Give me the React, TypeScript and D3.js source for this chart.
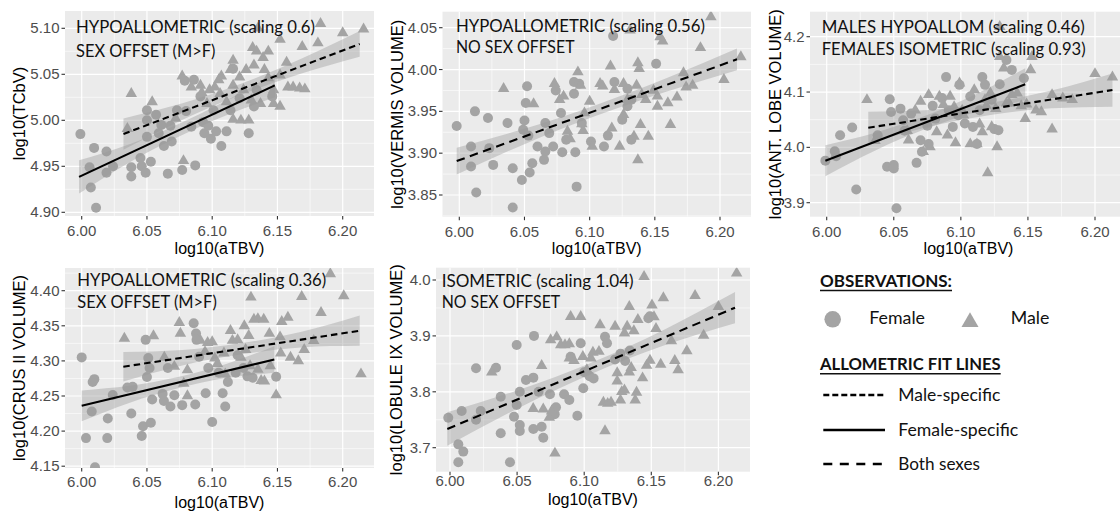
import React from 'react';
import * as d3 from 'd3';

type Pt = [number, number];

const X_TICKS = [6.0, 6.05, 6.1, 6.15, 6.2];
const P1_YTICKS = [4.9, 4.95, 5.0, 5.05, 5.1];
const P2_YTICKS = [3.85, 3.9, 3.95, 4.0, 4.05];
const P3_YTICKS = [3.9, 4.0, 4.1, 4.2];
const P4_YTICKS = [4.15, 4.2, 4.25, 4.3, 4.35, 4.4];
const P5_YTICKS = [3.7, 3.8, 3.9, 4.0];

const P1_NOTE = ['HYPOALLOMETRIC (scaling 0.6)', 'SEX OFFSET (M>F)'];
const P2_NOTE = ['HYPOALLOMETRIC (scaling 0.56)', 'NO SEX OFFSET'];
const P3_NOTE = ['MALES HYPOALLOM (scaling 0.46)', 'FEMALES ISOMETRIC (scaling 0.93)'];
const P4_NOTE = ['HYPOALLOMETRIC (scaling 0.36)', 'SEX OFFSET (M>F)'];
const P5_NOTE = ['ISOMETRIC (scaling 1.04)', 'NO SEX OFFSET'];

// ---------- Panel 1: TCbV ----------
const P1_FEMALE: Pt[] = [
  [5.999, 4.985], [6.0095, 4.97], [6.006, 4.949], [6.007, 4.927], [6.011, 4.905], [6.019, 4.966],
  [6.019, 4.943], [6.024, 4.95], [6.038, 4.949], [6.038, 4.939], [6.045, 4.959], [6.046, 4.95],
  [6.05, 5.011], [6.05, 5.0], [6.05, 4.982], [6.049, 4.943], [6.053, 4.955], [6.057, 5.006],
  [6.061, 4.995], [6.063, 4.972], [6.059, 4.986], [6.068, 4.994], [6.069, 4.977], [6.066, 4.942],
  [6.077, 4.946], [6.079, 5.043], [6.08, 5.01], [6.086, 5.044], [6.087, 4.951], [6.093, 4.998],
  [6.094, 4.986], [6.097, 4.994], [6.099, 4.98], [6.101, 5.011], [6.103, 4.988], [6.107, 4.972],
  [6.111, 4.988], [6.116, 5.056], [6.121, 5.024], [6.128, 4.986], [6.132, 5.015], [6.134, 5.033],
  [6.146, 5.026], [6.091, 5.026], [6.114, 5.011], [6.073, 5.011], [6.084, 4.993],
];
const P1_MALE: Pt[] = [
  [6.038, 5.029], [6.035, 4.991], [6.054, 5.02], [6.077, 5.048], [6.078, 4.956], [6.084, 5.036],
  [6.091, 5.038], [6.092, 5.03], [6.098, 5.033], [6.102, 5.036], [6.105, 5.044], [6.107, 5.048],
  [6.106, 5.029], [6.111, 5.02], [6.114, 5.055], [6.116, 5.038], [6.116, 5.001], [6.122, 5.0],
  [6.128, 5.0], [6.121, 5.047], [6.126, 5.055], [6.132, 5.06], [6.131, 5.079], [6.134, 5.075],
  [6.139, 5.068], [6.135, 5.1], [6.13, 5.022], [6.137, 5.018], [6.143, 5.075], [6.143, 5.046],
  [6.147, 5.033], [6.147, 5.018], [6.152, 5.015], [6.152, 5.088], [6.152, 5.049], [6.157, 5.063],
  [6.158, 5.036], [6.162, 5.036], [6.167, 5.035], [6.171, 5.034], [6.169, 5.08], [6.181, 5.084],
  [6.183, 5.105], [6.2, 5.095], [6.216, 5.099], [6.116, 5.065], [6.096, 5.018], [6.124, 5.033],
  [6.14, 5.055], [6.072, 5.002],
];
const P1_FEM_FIT_X = [5.998, 6.148];
const P1_FEM_FIT_Y = [4.9385, 5.038];
const P1_FEM_FIT_SE = [0.018, 0.01, 0.007, 0.008, 0.013];
const P1_MALE_FIT_X = [6.032, 6.213];
const P1_MALE_FIT_Y = [4.985, 5.083];
const P1_MALE_FIT_SE = [0.017, 0.009, 0.006, 0.008, 0.014];

// ---------- Panel 2: VERMIS ----------
const P2_FEMALE: Pt[] = [
  [5.998, 3.9325], [6.009, 3.908], [6.012, 3.95], [6.009, 3.884], [6.013, 3.853], [6.022, 3.942],
  [6.023, 3.906], [6.026, 3.886], [6.037, 3.936], [6.041, 3.882], [6.041, 3.835], [6.048, 3.868],
  [6.049, 3.928], [6.05, 3.939], [6.051, 3.96], [6.052, 3.98], [6.053, 3.921], [6.054, 3.877],
  [6.056, 3.888], [6.06, 3.908], [6.066, 3.936], [6.066, 3.902], [6.065, 3.892], [6.069, 3.924],
  [6.072, 3.908], [6.074, 3.975], [6.078, 3.948], [6.079, 3.901], [6.082, 3.916], [6.088, 3.971],
  [6.088, 3.985], [6.089, 3.901], [6.09, 3.86], [6.092, 3.983], [6.094, 3.936], [6.101, 3.914],
  [6.111, 3.908], [6.114, 3.921], [6.118, 4.04], [6.119, 3.985], [6.125, 3.94], [6.129, 3.956],
  [6.132, 3.964], [6.132, 3.916], [6.151, 4.007], [6.129, 3.977],
];
const P2_MALE: Pt[] = [
  [6.034, 3.977], [6.057, 3.959], [6.073, 3.983], [6.077, 3.964], [6.08, 3.968], [6.083, 3.926],
  [6.085, 3.917], [6.091, 3.997], [6.093, 3.981], [6.094, 3.935], [6.095, 3.927], [6.096, 3.948],
  [6.1, 3.962], [6.102, 3.908], [6.108, 3.983], [6.11, 3.98], [6.116, 4.004], [6.117, 3.93],
  [6.119, 3.976], [6.123, 3.908], [6.126, 3.983], [6.126, 3.946], [6.129, 3.964], [6.131, 4.047],
  [6.134, 3.92], [6.136, 3.981], [6.137, 3.892], [6.137, 4.008], [6.138, 4.001], [6.139, 3.934],
  [6.14, 3.97], [6.143, 3.964], [6.145, 3.92], [6.149, 3.975], [6.152, 3.956], [6.152, 3.968],
  [6.154, 4.039], [6.156, 4.034], [6.16, 3.96], [6.162, 3.934], [6.167, 3.967], [6.172, 3.996],
  [6.174, 3.979], [6.179, 3.981], [6.185, 4.026], [6.193, 4.063], [6.203, 3.988], [6.216, 4.015],
];
const P2_BOTH_FIT_X = [5.998, 6.213];
const P2_BOTH_FIT_Y = [3.8906, 4.0122];
const P2_BOTH_FIT_SE = [0.016, 0.009, 0.0065, 0.008, 0.013];

// ---------- Panel 3: ANT. LOBE ----------
const P3_FEMALE: Pt[] = [
  [5.999, 3.976], [6.006, 3.993], [6.007, 3.984], [6.01, 4.022], [6.019, 4.036], [6.022, 3.924],
  [6.038, 4.022], [6.045, 3.965], [6.047, 4.087], [6.048, 4.064], [6.05, 3.968], [6.05, 3.962],
  [6.052, 3.89], [6.055, 4.07], [6.057, 4.049], [6.058, 4.03], [6.063, 4.061], [6.07, 4.013],
  [6.067, 3.972], [6.071, 3.992], [6.075, 4.039], [6.076, 4.006], [6.079, 4.075], [6.081, 4.052],
  [6.086, 4.089], [6.089, 4.127], [6.091, 4.067], [6.094, 4.037], [6.098, 4.058], [6.099, 4.113],
  [6.103, 4.043], [6.107, 4.092], [6.109, 4.037], [6.112, 4.006], [6.114, 4.067], [6.116, 4.127],
  [6.118, 4.113], [6.123, 4.086], [6.125, 4.033], [6.128, 4.031], [6.129, 4.114], [6.134, 4.158],
  [6.138, 4.14], [6.147, 4.125],
];
const P3_MALE: Pt[] = [
  [6.03, 4.086], [6.036, 4.012], [6.06, 4.03], [6.061, 4.013], [6.066, 4.067], [6.07, 4.083],
  [6.072, 3.992], [6.076, 4.095], [6.077, 4.001], [6.082, 4.028], [6.084, 4.092], [6.087, 4.077],
  [6.09, 4.022], [6.092, 4.092], [6.095, 4.073], [6.096, 4.008], [6.099, 4.116], [6.101, 4.067],
  [6.102, 4.058], [6.107, 4.006], [6.11, 4.104], [6.112, 4.006], [6.114, 4.042], [6.116, 4.028],
  [6.119, 4.075], [6.12, 3.954], [6.122, 4.098], [6.123, 4.037], [6.126, 4.07], [6.127, 4.001],
  [6.129, 4.164], [6.129, 4.218], [6.132, 4.143], [6.134, 4.08], [6.136, 4.08], [6.138, 4.095],
  [6.142, 4.098], [6.145, 4.075], [6.148, 4.052], [6.149, 4.078], [6.152, 4.14], [6.153, 4.164],
  [6.156, 4.067], [6.16, 4.064], [6.168, 4.033], [6.168, 4.095], [6.176, 4.089], [6.183, 4.086],
  [6.2, 4.133], [6.213, 4.127], [6.118, 4.086],
];
const P3_FEM_FIT_X = [5.999, 6.148];
const P3_FEM_FIT_Y = [3.976, 4.114];
const P3_FEM_FIT_SE = [0.028, 0.016, 0.012, 0.016, 0.029];
const P3_MALE_FIT_X = [6.031, 6.213];
const P3_MALE_FIT_Y = [4.0355, 4.1036];
const P3_MALE_FIT_SE = [0.029, 0.015, 0.011, 0.016, 0.03];

// ---------- Panel 4: CRUS II ----------
const P4_FEMALE: Pt[] = [
  [6.0, 4.305], [6.0084, 4.27], [6.0097, 4.274], [6.0077, 4.228], [6.02, 4.218], [6.0238, 4.2514],
  [6.035, 4.262], [6.039, 4.263], [6.038, 4.225], [6.047, 4.207], [6.053, 4.212], [6.049, 4.33],
  [6.051, 4.304], [6.052, 4.29], [6.05, 4.277], [6.054, 4.245], [6.062, 4.253], [6.063, 4.243],
  [6.068, 4.235], [6.071, 4.251], [6.066, 4.29], [6.0858, 4.3536], [6.0876, 4.339], [6.088, 4.33],
  [6.09, 4.306], [6.077, 4.237], [6.087, 4.238], [6.095, 4.254], [6.1, 4.213], [6.108, 4.254],
  [6.11, 4.235], [6.112, 4.27], [6.1195, 4.308], [6.124, 4.29], [6.127, 4.278], [6.131, 4.276],
  [6.149, 4.2775], [6.097, 4.29], [6.105, 4.283], [6.118, 4.283], [6.0102, 4.1484], [6.0033, 4.19],
  [6.0196, 4.19], [6.046, 4.193],
];
const P4_MALE: Pt[] = [
  [6.0327, 4.332], [6.055, 4.3355], [6.0748, 4.3544], [6.0756, 4.3393], [6.0633, 4.305], [6.071, 4.292],
  [6.0782, 4.268], [6.081, 4.25], [6.081, 4.287], [6.091, 4.329], [6.0965, 4.326], [6.1, 4.327],
  [6.0945, 4.313], [6.102, 4.304], [6.104, 4.296], [6.109, 4.311], [6.114, 4.343], [6.1155, 4.329],
  [6.1195, 4.33], [6.122, 4.305], [6.1246, 4.3497], [6.128, 4.336], [6.1297, 4.3906], [6.132, 4.359],
  [6.135, 4.36], [6.1395, 4.359], [6.1256, 4.316], [6.129, 4.293], [6.135, 4.288], [6.1375, 4.272],
  [6.14, 4.271], [6.1438, 4.339], [6.1445, 4.293], [6.149, 4.2514], [6.152, 4.334], [6.1533, 4.356],
  [6.158, 4.362], [6.1525, 4.311], [6.16, 4.305], [6.166, 4.3], [6.1686, 4.3915], [6.1705, 4.316],
  [6.1778, 4.3288], [6.1834, 4.3687], [6.1905, 4.424], [6.2008, 4.3925], [6.214, 4.2813], [6.11, 4.281],
];
const P4_FEM_FIT_X = [6.0, 6.1476];
const P4_FEM_FIT_Y = [4.236, 4.302];
const P4_FEM_FIT_SE = [0.022, 0.012, 0.008, 0.01, 0.019];
const P4_MALE_FIT_X = [6.0319, 6.213];
const P4_MALE_FIT_Y = [4.2917, 4.343];
const P4_MALE_FIT_SE = [0.021, 0.011, 0.008, 0.011, 0.0215];

// ---------- Panel 5: LOBULE IX ----------
const P5_FEMALE: Pt[] = [
  [5.9987, 3.7537], [6.0087, 3.7657], [6.0062, 3.706], [6.0062, 3.674], [6.0099, 3.693], [6.0194, 3.842],
  [6.0229, 3.7657], [6.0194, 3.75], [6.0343, 3.843], [6.0378, 3.7913], [6.0378, 3.726], [6.0447, 3.674],
  [6.0477, 3.7555], [6.0497, 3.8837], [6.0497, 3.7764], [6.052, 3.7406], [6.052, 3.73], [6.052, 3.8],
  [6.0566, 3.821], [6.0621, 3.8253], [6.0626, 3.9], [6.0621, 3.7334], [6.066, 3.8], [6.0683, 3.7376],
  [6.0695, 3.7179], [6.0745, 3.7955], [6.078, 3.76], [6.079, 3.7725], [6.085, 3.7955], [6.0889, 3.7853],
  [6.0899, 3.8628], [6.0949, 3.757], [6.0974, 3.8867], [6.0993, 3.8062], [6.1, 3.835], [6.104, 3.828],
  [6.107, 3.824], [6.1155, 3.8986], [6.117, 3.887], [6.123, 3.858], [6.127, 3.868], [6.1305, 3.855],
  [6.134, 3.874], [6.1478, 3.9315], [6.149, 3.935],
];
const P5_MALE: Pt[] = [
  [6.0311, 3.8349], [6.062, 3.77], [6.0683, 3.8467], [6.0695, 3.769], [6.074, 3.754], [6.075, 3.8927],
  [6.0757, 3.7654], [6.0782, 3.69], [6.0795, 3.898], [6.0825, 3.8837], [6.0857, 3.8837], [6.0889, 3.8855],
  [6.0899, 3.9344], [6.0889, 3.86], [6.0924, 3.8557], [6.0974, 3.9344], [6.099, 3.8628], [6.102, 3.839],
  [6.105, 3.86], [6.1065, 3.8706], [6.111, 3.872], [6.1118, 3.9195], [6.1143, 3.781], [6.1155, 3.73],
  [6.1175, 3.779], [6.12, 3.781], [6.123, 3.917], [6.1246, 3.8337], [6.1246, 3.819], [6.127, 3.785],
  [6.128, 3.8], [6.13, 3.905], [6.13, 3.803], [6.132, 3.917], [6.1336, 3.8353], [6.1336, 3.9523],
  [6.135, 3.843], [6.137, 3.909], [6.139, 3.799], [6.138, 3.785], [6.14, 3.929], [6.1435, 3.8246],
  [6.1446, 4.006], [6.1465, 3.847], [6.149, 3.856], [6.1505, 3.955], [6.152, 3.934], [6.1535, 3.913],
  [6.157, 3.849], [6.159, 3.968], [6.165, 3.891], [6.1675, 3.8557], [6.17, 3.839], [6.1765, 3.873],
  [6.1826, 3.972], [6.189, 3.901], [6.2, 3.9523], [6.2136, 4.012],
];
const P5_BOTH_FIT_X = [5.998, 6.2124];
const P5_BOTH_FIT_Y = [3.7334, 3.9505];
const P5_BOTH_FIT_SE = [0.03, 0.016, 0.01, 0.014, 0.028];

// ---------- Legend ----------
const LEGEND_OBS = ['Female', 'Male'];
const LEGEND_LINES = ['Male-specific', 'Female-specific', 'Both sexes'];

// ---------- layout / styles ----------
const PT_FILL = '#a4a4a4';
const BG = '#ebebeb';
const BAND_FILL = '#999999';
const DASH_MALE = '6.5 4';
const DASH_BOTH = '8.5 5.5';
const TXT_FONT = 'Lato, "Open Sans", sans-serif';
const AX_FONT = '"Liberation Sans", Arial, sans-serif';

type FitStyle = 'male' | 'female' | 'both';
interface Fit { fx: number[]; fy: number[]; se: number[]; style: FitStyle }
interface Panel {
  id: string;
  box: { l: number; r: number; t: number; b: number };
  xr: [number, number];
  yd: [number, number];
  yr: [number, number];
  yTicks: number[];
  yFmt: string;
  yTitle: string;
  yTitleX: number;
  xTickBase: number;
  xTitleBase: number;
  note: string[];
  noteX: number;
  noteY: number[];
  noteW: number[];
  fem: Pt[];
  male: Pt[];
  fits: Fit[];
}

const PANELS: Panel[] = [
  {
    id: 'p1', box: { l: 65, r: 374, t: 11, b: 216 }, xr: [81.7, 342.7], yd: [4.9, 5.1], yr: [212.3, 28.3],
    yTicks: P1_YTICKS, yFmt: '.2f', yTitle: 'log10(TCbV)', yTitleX: 25, xTickBase: 236, xTitleBase: 254,
    note: P1_NOTE, noteX: 76, noteY: [33.3, 56.7], noteW: [239, 139.5],
    fem: P1_FEMALE, male: P1_MALE,
    fits: [
      { fx: P1_FEM_FIT_X, fy: P1_FEM_FIT_Y, se: P1_FEM_FIT_SE, style: 'female' },
      { fx: P1_MALE_FIT_X, fy: P1_MALE_FIT_Y, se: P1_MALE_FIT_SE, style: 'male' },
    ],
  },
  {
    id: 'p2', box: { l: 442.5, r: 751, t: 11.7, b: 216.7 }, xr: [459.3, 720], yd: [3.85, 4.05], yr: [195, 27.7],
    yTicks: P2_YTICKS, yFmt: '.2f', yTitle: 'log10(VERMIS VOLUME)', yTitleX: 403, xTickBase: 236.5, xTitleBase: 254,
    note: P2_NOTE, noteX: 456, noteY: [31.7, 53.3], noteW: [249, 118.5],
    fem: P2_FEMALE, male: P2_MALE,
    fits: [{ fx: P2_BOTH_FIT_X, fy: P2_BOTH_FIT_Y, se: P2_BOTH_FIT_SE, style: 'both' }],
  },
  {
    id: 'p3', box: { l: 810, r: 1127, t: 11.7, b: 216.7 }, xr: [826.7, 1095], yd: [3.9, 4.2], yr: [202.7, 36.7],
    yTicks: P3_YTICKS, yFmt: '.1f', yTitle: 'log10(ANT. LOBE VOLUME)', yTitleX: 781, xTickBase: 236.5, xTitleBase: 254,
    note: P3_NOTE, noteX: 821.7, noteY: [33.3, 55], noteW: [263, 264],
    fem: P3_FEMALE, male: P3_MALE,
    fits: [
      { fx: P3_FEM_FIT_X, fy: P3_FEM_FIT_Y, se: P3_FEM_FIT_SE, style: 'female' },
      { fx: P3_MALE_FIT_X, fy: P3_MALE_FIT_Y, se: P3_MALE_FIT_SE, style: 'male' },
    ],
  },
  {
    id: 'p4', box: { l: 65, r: 374, t: 268, b: 468 }, xr: [81.7, 342.7], yd: [4.15, 4.4], yr: [466.2, 290.7],
    yTicks: P4_YTICKS, yFmt: '.2f', yTitle: 'log10(CRUS II VOLUME)', yTitleX: 25, xTickBase: 486.5, xTitleBase: 508,
    note: P4_NOTE, noteX: 77.3, noteY: [286, 308], noteW: [249, 139.5],
    fem: P4_FEMALE, male: P4_MALE,
    fits: [
      { fx: P4_FEM_FIT_X, fy: P4_FEM_FIT_Y, se: P4_FEM_FIT_SE, style: 'female' },
      { fx: P4_MALE_FIT_X, fy: P4_MALE_FIT_Y, se: P4_MALE_FIT_SE, style: 'male' },
    ],
  },
  {
    id: 'p5', box: { l: 436, r: 750, t: 267.7, b: 471.7 }, xr: [450, 718.4], yd: [3.7, 4.0], yr: [447.7, 280],
    yTicks: P5_YTICKS, yFmt: '.1f', yTitle: 'log10(LOBULE IX VOLUME)', yTitleX: 402, xTickBase: 486, xTitleBase: 505,
    note: P5_NOTE, noteX: 441.7, noteY: [286.7, 308.3], noteW: [192, 118.5],
    fem: P5_FEMALE, male: P5_MALE,
    fits: [{ fx: P5_BOTH_FIT_X, fy: P5_BOTH_FIT_Y, se: P5_BOTH_FIT_SE, style: 'both' }],
  },
];

const triPath = (s: number) => {
  const h = s / Math.sqrt(3);
  return `M0,${-h}L${s / 2},${h / 2}L${-s / 2},${h / 2}Z`;
};

function minors(ticks: number[], lo: number, hi: number) {
  const step = ticks[1] - ticks[0];
  const out: number[] = [];
  for (let i = -1; i < ticks.length; i++) {
    const v = ticks[0] + step * (i + 0.5);
    if (v > lo && v < hi) out.push(v);
  }
  return out;
}

function PanelView({ p }: { p: Panel }) {
  const x = d3.scaleLinear().domain([6.0, 6.2]).range(p.xr);
  const y = d3.scaleLinear().domain(p.yd).range(p.yr);
  const { l, r, t, b } = p.box;
  const xLo = x.invert(l), xHi = x.invert(r);
  const yLo = y.invert(b), yHi = y.invert(t);
  const xFmt = d3.format('.2f');
  const yFmt = d3.format(p.yFmt);
  const clipId = `clip-${p.id}`;
  const area = d3.area<{ xv: number; lo: number; hi: number }>()
    .x(d => x(d.xv)).y0(d => y(d.lo)).y1(d => y(d.hi)).curve(d3.curveNatural);
  const tri = triPath(11.5);
  return (
    <g>
      <defs>
        <clipPath id={clipId}><rect x={l} y={t} width={r - l} height={b - t} /></clipPath>
      </defs>
      <rect x={l} y={t} width={r - l} height={b - t} fill={BG} />
      <g clipPath={`url(#${clipId})`}>
        {minors(X_TICKS, xLo, xHi).map(v => (
          <line key={`xm${v}`} x1={x(v)} x2={x(v)} y1={t} y2={b} stroke="#fff" strokeWidth={0.6} />
        ))}
        {minors(p.yTicks, yLo, yHi).map(v => (
          <line key={`ym${v}`} x1={l} x2={r} y1={y(v)} y2={y(v)} stroke="#fff" strokeWidth={0.6} />
        ))}
        {X_TICKS.map(v => (
          <line key={`xg${v}`} x1={x(v)} x2={x(v)} y1={t} y2={b} stroke="#fff" strokeWidth={1.2} />
        ))}
        {p.yTicks.map(v => (
          <line key={`yg${v}`} x1={l} x2={r} y1={y(v)} y2={y(v)} stroke="#fff" strokeWidth={1.2} />
        ))}
        {p.fem.map((d, i) => (
          <circle key={`f${i}`} cx={x(d[0])} cy={y(d[1])} r={5} fill={PT_FILL} />
        ))}
        {p.male.map((d, i) => (
          <path key={`m${i}`} d={tri} transform={`translate(${x(d[0])},${y(d[1])})`} fill={PT_FILL} />
        ))}
        {p.fits.map((f, i) => {
          const pts = f.se.map((h, k) => {
            const tt = k / (f.se.length - 1);
            const xv = f.fx[0] + tt * (f.fx[1] - f.fx[0]);
            const yv = f.fy[0] + tt * (f.fy[1] - f.fy[0]);
            return { xv, lo: yv - h, hi: yv + h };
          });
          return <path key={`band${i}`} d={area(pts) || ''} fill={BAND_FILL} fillOpacity={0.4} />;
        })}
        {p.fits.map((f, i) => (
          <line key={`fit${i}`} x1={x(f.fx[0])} y1={y(f.fy[0])} x2={x(f.fx[1])} y2={y(f.fy[1])}
            stroke="#000" strokeWidth={2.1}
            strokeDasharray={f.style === 'male' ? DASH_MALE : f.style === 'both' ? DASH_BOTH : undefined} />
        ))}
      </g>
      {/* axes */}
      {X_TICKS.map(v => (
        <g key={`xt${v}`}>
          <line x1={x(v)} x2={x(v)} y1={b} y2={b + 3.5} stroke="#333" strokeWidth={1.1} />
          <text x={x(v)} y={p.xTickBase} textAnchor="middle" fontFamily={AX_FONT} fontSize={15} fill="#4d4d4d">{xFmt(v)}</text>
        </g>
      ))}
      {p.yTicks.map(v => (
        <g key={`yt${v}`}>
          <line x1={l - 3.5} x2={l} y1={y(v)} y2={y(v)} stroke="#333" strokeWidth={1.1} />
          <text x={l - 5.5} y={y(v) + 5} textAnchor="end" fontFamily={AX_FONT} fontSize={15} fill="#4d4d4d">{yFmt(v)}</text>
        </g>
      ))}
      <text x={(l + r) / 2} y={p.xTitleBase} textAnchor="middle" fontFamily={AX_FONT} fontSize={16} fill="#000">log10(aTBV)</text>
      <text transform={`translate(${p.yTitleX},${(t + b) / 2}) rotate(-90)`} textAnchor="middle"
        fontFamily={AX_FONT} fontSize={16.5} fill="#000">{p.yTitle}</text>
      {p.note.map((s, i) => (
        <text key={`n${i}`} x={p.noteX} y={p.noteY[i]} fontFamily={TXT_FONT} fontSize={17.5} fill="#111"
          textLength={p.noteW[i]} lengthAdjust="spacingAndGlyphs">{s}</text>
      ))}
    </g>
  );
}

function Legend() {
  const hx = 820;
  const lx0 = 823.3, lx1 = 885, tx = 898.3;
  const lineYs = [395, 430, 464];
  const lineBase = [401, 436, 470];
  const lineW = [102, 120, 81.7];
  const dashes = ['6 3', undefined, '9 7.5'];
  return (
    <g fontFamily={TXT_FONT} fill="#111">
      <text x={hx} y={286.7} fontSize={17.5} fontWeight="bold" textLength={132} lengthAdjust="spacingAndGlyphs">OBSERVATIONS:</text>
      <line x1={hx} x2={hx + 132} y1={290.5} y2={290.5} stroke="#111" strokeWidth={1.4} />
      <circle cx={832.7} cy={319.3} r={8.3} fill={PT_FILL} />
      <text x={869.3} y={324} fontSize={17.5} textLength={55.7} lengthAdjust="spacingAndGlyphs">{LEGEND_OBS[0]}</text>
      <path d={triPath(17)} transform="translate(970,322)" fill={PT_FILL} />
      <text x={1010.7} y={324} fontSize={17.5} textLength={38.7} lengthAdjust="spacingAndGlyphs">{LEGEND_OBS[1]}</text>
      <text x={hx} y={370} fontSize={17.5} fontWeight="bold" textLength={180.7} lengthAdjust="spacingAndGlyphs">ALLOMETRIC FIT LINES</text>
      <line x1={hx} x2={hx + 180.7} y1={373.8} y2={373.8} stroke="#111" strokeWidth={1.4} />
      {LEGEND_LINES.map((s, i) => (
        <g key={s}>
          <line x1={lx0} x2={lx1} y1={lineYs[i]} y2={lineYs[i]} stroke="#000" strokeWidth={2.3} strokeDasharray={dashes[i]} />
          <text x={tx} y={lineBase[i]} fontSize={17.5} textLength={lineW[i]} lengthAdjust="spacingAndGlyphs">{s}</text>
        </g>
      ))}
    </g>
  );
}

export default function App() {
  return (
    <svg width={1120} height={513} viewBox="0 0 1120 513"
      style={{ position: 'absolute', left: 0, top: 0, background: '#fff' }}>
      <rect x={0} y={0} width={1120} height={513} fill="#fff" />
      {PANELS.map(p => <PanelView key={p.id} p={p} />)}
      <Legend />
    </svg>
  );
}
